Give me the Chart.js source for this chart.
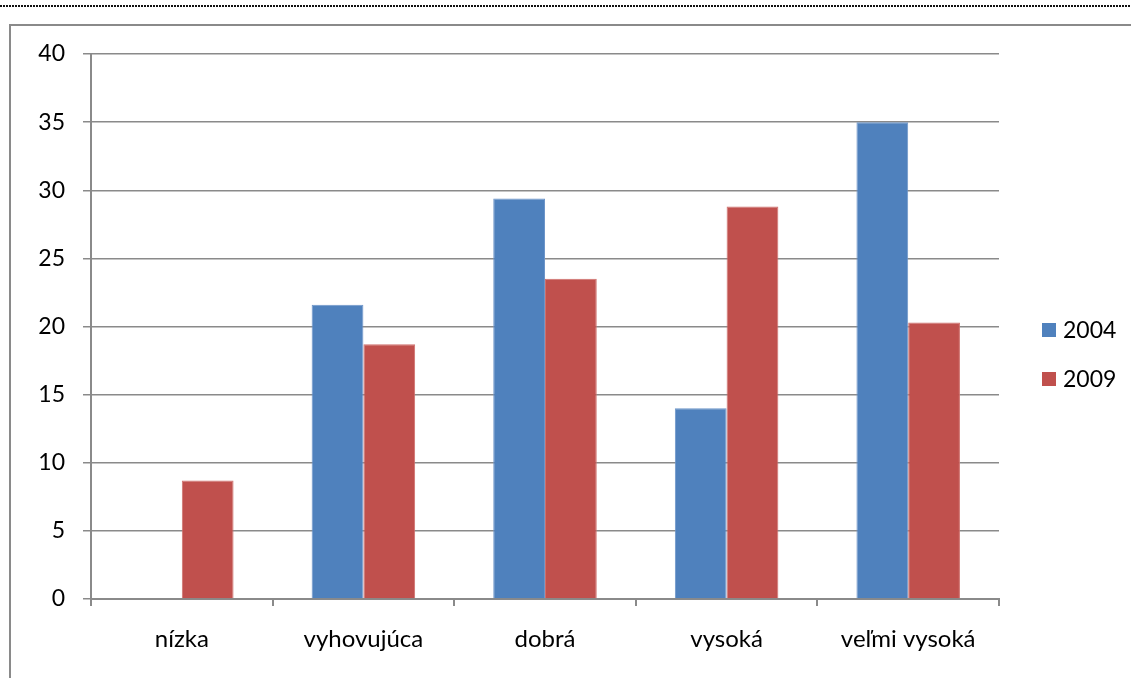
<!DOCTYPE html>
<html>
<head>
<meta charset="utf-8">
<script src="https://cdn.jsdelivr.net/npm/chart.js@4"></script>
<style>
  html, body { margin: 0; padding: 0; background: #fff; overflow: hidden; }
  body { width: 1131px; height: 678px; position: relative; }
  .dots { position: absolute; left: 0; top: 5px; width: 1131px; height: 2px;
          background: repeating-linear-gradient(90deg, #111 0 2px, transparent 2px 3px); }
  .frame { position: absolute; left: 9px; top: 24px; width: 1400px; height: 900px; border: 2px solid #8a8a8a; }
  #chart { position: absolute; left: 0; top: 0; }
</style>
</head>
<body>
<div class="dots"></div>
<div class="frame"></div>
<canvas id="chart" width="1131" height="678"></canvas>
<script>
const categories = ['nízka', 'vyhovujúca', 'dobrá', 'vysoká', 'veľmi vysoká'];
const seriesNames = ['2004', '2009'];
const values2004 = [0, 21.6, 29.4, 14.0, 35.0];
const values2009 = [8.7, 18.7, 23.5, 28.8, 20.3];
const yTicks = [0, 5, 10, 15, 20, 25, 30, 35, 40];

const FONT = 'Lato, Carlito, Calibri, "Open Sans", sans-serif';
const FONT_SIZE = 23;
const CAT_FONT_SIZE = 24;
const AXIS_GRAY = '#8a8a8a';

// Legend on the right, drawn from the dataset labels and colours
const sideLegend = {
  id: 'sideLegend',
  afterDraw(chart, args, opts) {
    const ctx = chart.ctx;
    ctx.save();
    ctx.font = FONT_SIZE + 'px ' + FONT;
    ctx.textBaseline = 'middle';
    ctx.textAlign = 'left';
    chart.data.datasets.forEach((ds, i) => {
      const cy = opts.top + i * opts.spacing;
      ctx.fillStyle = ds.backgroundColor;
      ctx.fillRect(opts.left, cy - opts.box / 2, opts.box, opts.box);
      ctx.fillStyle = '#000';
      ctx.fillText(ds.label, opts.left + opts.box + 7, cy + 1);
    });
    ctx.restore();
  }
};

new Chart(document.getElementById('chart'), {
  type: 'bar',
  data: {
    labels: categories,
    datasets: [
      { label: seriesNames[0], data: values2004, backgroundColor: '#4F81BD', borderColor: '#6d95c9', borderWidth: 1 },
      { label: seriesNames[1], data: values2009, backgroundColor: '#C0504D', borderColor: '#cf6f6c', borderWidth: 1 }
    ]
  },
  options: {
    responsive: false,
    animation: false,
    layout: { padding: { left: 0, right: 132, top: 54, bottom: 0 } },
    datasets: { bar: { categoryPercentage: 0.57, barPercentage: 1.0 } },
    plugins: {
      legend: { display: false },
      tooltip: { enabled: false },
      sideLegend: { left: 1042, top: 330, spacing: 49, box: 14 }
    },
    scales: {
      x: {
        offset: true,
        grid: { display: true, drawOnChartArea: false, drawTicks: true, tickLength: 7, color: AXIS_GRAY, lineWidth: 2, offset: true },
        border: { display: true, color: AXIS_GRAY, width: 2 },
        ticks: { color: '#000', font: { family: FONT, size: CAT_FONT_SIZE }, padding: 19, maxRotation: 0, autoSkip: false },
        afterFit(scale) { scale.height = 79; }
      },
      y: {
        min: 0, max: 40,
        afterBuildTicks(scale) { scale.ticks = yTicks.map(v => ({ value: v })); },
        grid: { color: AXIS_GRAY, lineWidth: 1.5, drawTicks: true, tickLength: 8 },
        border: { display: true, color: AXIS_GRAY, width: 2 },
        ticks: { color: '#000', font: { family: FONT, size: FONT_SIZE }, padding: 18 },
        afterFit(scale) { scale.width = 91; }
      }
    }
  },
  plugins: [sideLegend]
});
</script>
</body>
</html>
